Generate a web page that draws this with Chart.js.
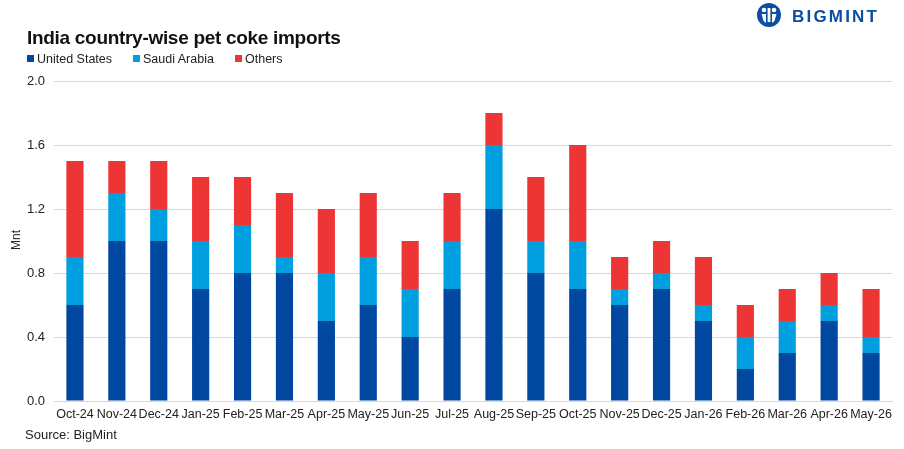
<!DOCTYPE html>
<html><head><meta charset="utf-8">
<script src="https://cdn.jsdelivr.net/npm/chart.js@4"></script>
<style>
html,body{margin:0;padding:0;background:#fff;}
#wrap{position:relative;width:904px;height:449px;overflow:hidden;font-family:"Liberation Sans",Arial,sans-serif;}
#c{position:absolute;left:0;top:0;}
#title{position:absolute;left:27px;top:27px;font-size:19px;font-weight:bold;color:#111;letter-spacing:-0.3px;}
#legend{position:absolute;left:27px;top:52px;font-size:12.5px;color:#222;}
#legend span.it{position:absolute;white-space:nowrap;}
#legend i{display:inline-block;width:7px;height:7px;margin-right:3px;vertical-align:1px;}
#ytitle{position:absolute;left:6px;top:233px;font-size:12px;color:#222;transform:rotate(-90deg);transform-origin:center;}
#source{position:absolute;left:25px;top:427px;font-size:13px;color:#222;}
#logo{position:absolute;left:757px;top:3px;height:24px;}
#logo .txt{position:absolute;left:35px;top:4px;font-size:17px;font-weight:bold;color:#0b4ea2;letter-spacing:2.2px;}
#logo .ic{position:absolute;left:0;top:0;width:24px;height:24px;}
</style></head>
<body><div id="wrap">
<canvas id="c" width="904" height="449"></canvas>
<div id="title">India country-wise pet coke imports</div>
<div id="legend">
<span class="it" style="left:0"><i style="background:#0047A0"></i>United States</span>
<span class="it" style="left:106px"><i style="background:#00A0E0"></i>Saudi Arabia</span>
<span class="it" style="left:208px"><i style="background:#EE3535"></i>Others</span>
</div>
<div id="ytitle">Mnt</div>
<div id="source">Source: BigMint</div>
<div id="logo"><svg class="ic" width="24" height="24" viewBox="0 0 24 24"><circle cx="12" cy="12" r="12" fill="#0b4ea2"/><circle cx="7" cy="7" r="2.3" fill="#fff"/><circle cx="17" cy="7" r="2.3" fill="#fff"/><rect x="10.6" y="5" width="2.8" height="14" fill="#fff"/><path d="M4.5 11 L9 11 L9 20 L6.5 18 Z" fill="#fff"/><path d="M19.5 11 L15 11 L15 20 L17.5 18 Z" fill="#fff"/></svg><span class="txt">BIGMINT</span></div>
</div>
<script>
const categories = ["Oct-24","Nov-24","Dec-24","Jan-25","Feb-25","Mar-25","Apr-25","May-25","Jun-25","Jul-25","Aug-25","Sep-25","Oct-25","Nov-25","Dec-25","Jan-26","Feb-26","Mar-26","Apr-26","May-26"];
const unitedStates = [0.6,1.0,1.0,0.7,0.8,0.8,0.5,0.6,0.4,0.7,1.2,0.8,0.7,0.6,0.7,0.5,0.2,0.3,0.5,0.3];
const saudiArabia  = [0.3,0.3,0.2,0.3,0.3,0.1,0.3,0.3,0.3,0.3,0.4,0.2,0.3,0.1,0.1,0.1,0.2,0.2,0.1,0.1];
const others       = [0.6,0.2,0.3,0.4,0.3,0.4,0.4,0.4,0.3,0.3,0.2,0.4,0.6,0.2,0.2,0.3,0.2,0.2,0.2,0.3];
const yTicks = [0,0.4,0.8,1.2,1.6,2.0];

const ds = (label, data, color) => ({label, data, backgroundColor: color, borderWidth: 0, barPercentage: 0.41, categoryPercentage: 1.0});
new Chart(document.getElementById('c'), {
  type: 'bar',
  data: { labels: categories, datasets: [
    ds('United States', unitedStates, '#0047A0'),
    ds('Saudi Arabia', saudiArabia, '#00A0E0'),
    ds('Others', others, '#EE3535')
  ]},
  options: {
    responsive: false, animation: false,
    layout: { padding: { top: 81, right: 12, bottom: 0, left: 0 } },
    plugins: { legend: { display: false }, tooltip: { enabled: false } },
    scales: {
      x: { stacked: true,
        grid: { display: false, drawTicks: false },
        border: { display: true, color: '#d9d9d9', width: 1 },
        ticks: { color: '#222', font: { family: 'Liberation Sans', size: 12.5 }, padding: 6, maxRotation: 0, autoSkip: false },
        afterFit: s => { s.height = 48; }
      },
      y: { stacked: true, min: 0, max: 2.0,
        afterBuildTicks: s => { s.ticks = yTicks.map(v => ({value: v})); },
        grid: { color: '#d9d9d9', lineWidth: 1, drawTicks: false },
        border: { display: false },
        ticks: { color: '#222', font: { family: 'Liberation Sans', size: 13 }, padding: 9, callback: v => Number(v).toFixed(1) },
        afterFit: s => { s.width = 54; }
      }
    }
  }
});
</script>
</body></html>
